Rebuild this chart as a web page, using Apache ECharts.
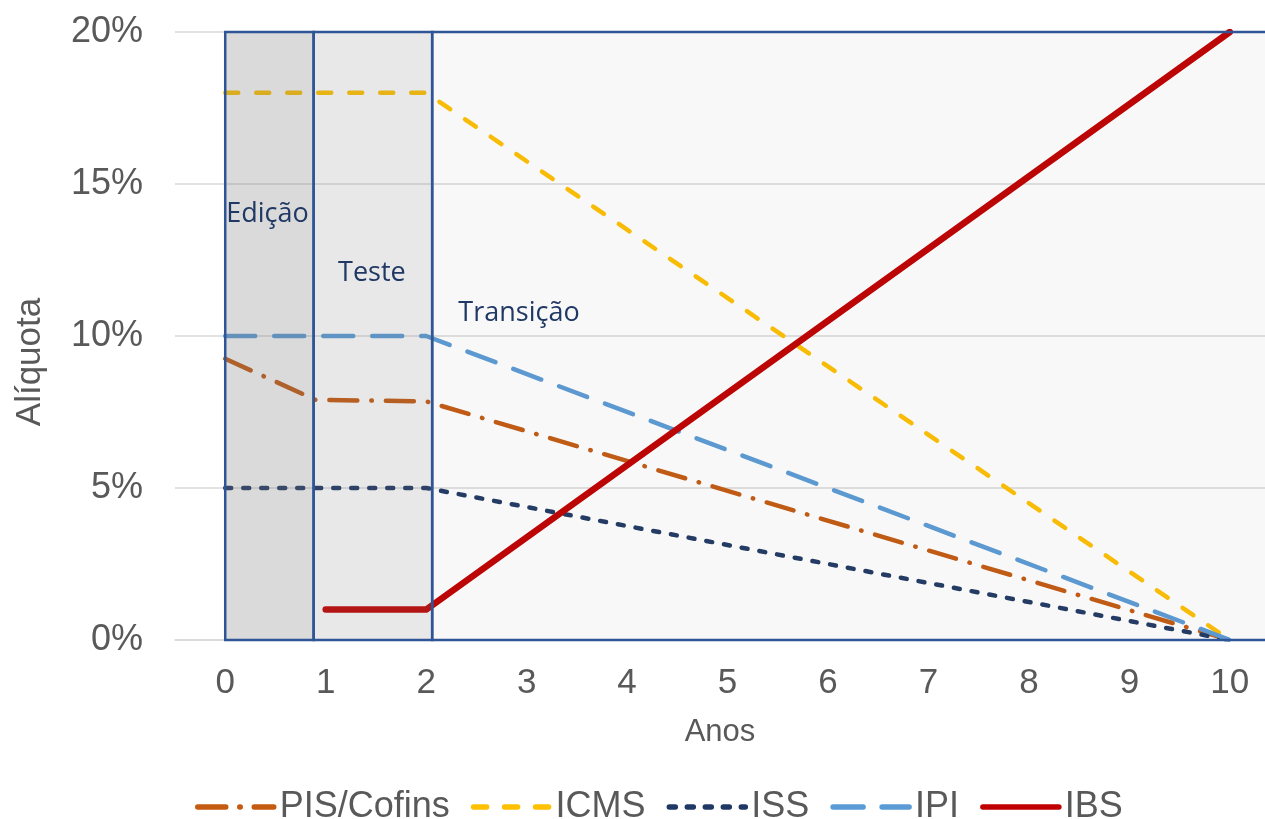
<!DOCTYPE html>
<html><head><meta charset="utf-8">
<script src="https://cdn.jsdelivr.net/npm/echarts@6/dist/echarts.min.js"></script>
<style>html,body{margin:0;padding:0;background:#fff}#c{width:1265px;height:819px}</style>
</head><body><div id="c"></div>
<script>
const xTicks = [0, 1, 2, 3, 4, 5, 6, 7, 8, 9, 10];
const pisCofins = [[0, 9.25], [0.9, 7.9], [2, 7.85], [10, 0]];
const icms = [[0, 18], [2, 18], [10, 0]];
const iss = [[0, 5], [2, 5], [10, 0]];
const ipi = [[0, 10], [2, 10], [10, 0]];
const ibs = [[1, 1], [2, 1], [10, 20]];
const seriesNames = ['PIS/Cofins', 'ICMS', 'ISS', 'IPI', 'IBS'];
const phaseNames = ['Edição', 'Teste', 'Transição'];
const phaseStart = [0, 0.88, 2.06];
const phaseEnd = [0.88, 2.06, 11];
const phaseLabelX = [0.42, 1.46, 2.32];
const phaseLabelY = [14, 12.07, 10.76];

const phaseFill = ['rgba(120,120,120,0.27)', 'rgba(120,120,120,0.17)', 'rgba(120,120,120,0.05)'];
const phaseAlign = ['center', 'center', 'left'];
const border = '#2F5597';
const txt = '#595959';
const FONT = 'Liberation Sans, Arial, sans-serif';

const chart = echarts.init(document.getElementById('c'), null, {renderer: 'canvas'});

function lineSeries(name, data, color, width, dash) {
  return {
    name: name, type: 'line', data: data, symbol: 'none', z: 2,
    lineStyle: {color: color, width: width, type: dash, cap: 'round', join: 'round'},
    itemStyle: {color: color},
    emphasis: {disabled: true}, animation: false
  };
}

const option = {
  backgroundColor: '#ffffff',
  animation: false,
  grid: {left: 175, right: 0, top: 32, bottom: 179},
  xAxis: {
    type: 'value', min: -0.5, max: 10.35,
    name: 'Anos', nameLocation: 'middle', nameGap: 77,
    nameTextStyle: {fontFamily: FONT, fontSize: 31, color: txt},
    axisLine: {show: true, lineStyle: {color: '#d9d9d9', width: 1.5}},
    axisTick: {show: false},
    splitLine: {show: false},
    axisLabel: {customValues: xTicks, fontFamily: FONT, fontSize: 35, color: txt, margin: 26}
  },
  yAxis: {
    type: 'value', min: 0, max: 20, interval: 5,
    axisLine: {show: false}, axisTick: {show: false},
    splitLine: {lineStyle: {color: '#d9d9d9', width: 1.5}},
    axisLabel: {formatter: '{value}%', fontFamily: FONT, fontSize: 36, color: txt, margin: 32}
  },
  legend: {
    data: seriesNames,
    left: 190, top: 784,
    itemWidth: 76, itemHeight: 16, itemGap: 21,
    itemStyle: {opacity: 0},
    lineStyle: {width: 5.5},
    textStyle: {fontFamily: FONT, fontSize: 36, color: txt, padding: [0, 0, 0, 1]}
  },
  graphic: [{
    type: 'text', x: 30, y: 362, rotation: Math.PI / 2,
    style: {text: 'Alíquota', fontFamily: FONT, fontSize: 35, fill: txt, align: 'center', verticalAlign: 'middle'}
  }],
  series: [
    lineSeries('PIS/Cofins', pisCofins, '#C55A11', 4.5, [28, 14, 0.5, 14]),
    lineSeries('ICMS', icms, '#FFC000', 4.5, [13, 18]),
    lineSeries('ISS', iss, '#203864', 4.5, [6, 12]),
    lineSeries('IPI', ipi, '#5B9BD5', 4.5, [30, 19]),
    lineSeries('IBS', ibs, '#C00000', 6.5, 'solid'),
    {
      type: 'custom', name: 'phases', z: 10, animation: false, silent: true,
      data: phaseNames.map((n, i) => [phaseStart[i], phaseEnd[i], i]),
      encode: {x: [0, 1]},
      renderItem: function (params, api) {
        const i = api.value(2);
        const p0 = api.coord([api.value(0), 20]);
        const p1 = api.coord([api.value(1), 0]);
        const lp = api.coord([phaseLabelX[i], phaseLabelY[i]]);
        return {
          type: 'group',
          children: [{
            type: 'rect',
            shape: {x: p0[0], y: p0[1], width: p1[0] - p0[0], height: p1[1] - p0[1]},
            style: {fill: phaseFill[i], stroke: border, lineWidth: 2.5}
          }, {
            type: 'text', x: lp[0], y: lp[1],
            style: {text: phaseNames[i], fontFamily: 'Open Sans', fontSize: 27, fill: '#1F3864', align: phaseAlign[i], verticalAlign: 'middle'}
          }]
        };
      }
    }
  ]
};
chart.setOption(option);
</script></body></html>
